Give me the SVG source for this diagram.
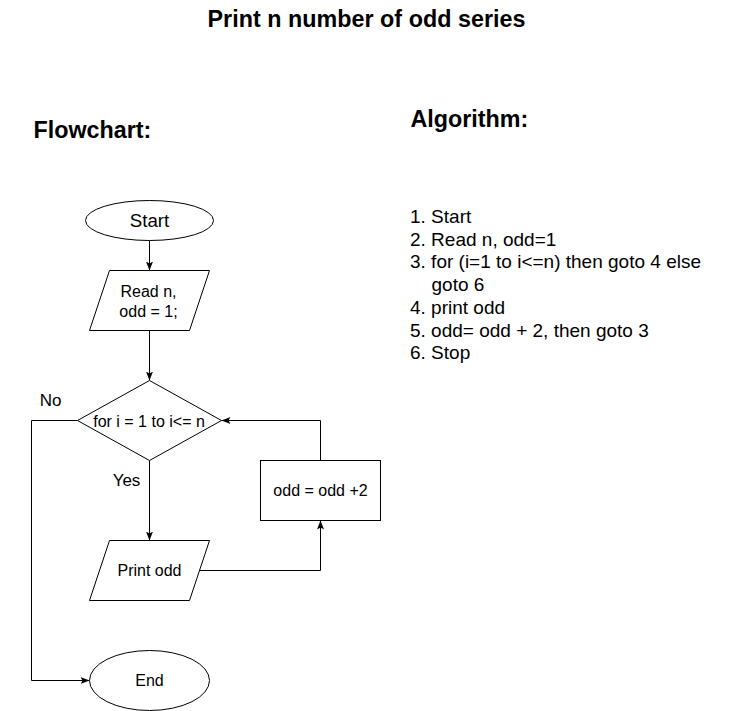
<svg xmlns="http://www.w3.org/2000/svg" width="731" height="711" viewBox="0 0 731 711">
<style>
.shape{fill:#ffffff;stroke:#000000;stroke-width:1}
.conn{fill:none;stroke:#000000;stroke-width:1}
.t{font-family:"Liberation Sans",Arial,sans-serif;fill:#000000}
.node{font-size:16px;text-anchor:middle}
.head{font-size:23.3px;font-weight:bold}
.algo{font-size:19px}
</style>
<defs>
<marker id="arrow" markerUnits="userSpaceOnUse" markerWidth="10" markerHeight="8" refX="9" refY="3.5" orient="auto">
<path d="M0,0 L9,3.5 L0,7 L2,3.5 Z" fill="#000000"/>
</marker>
</defs>
<rect x="0" y="0" width="731" height="711" fill="#ffffff"/>
<g id="titles">
<text class="t head" x="207.5" y="26.5" textLength="318" lengthAdjust="spacing">Print n number of odd series</text>
<text class="t head" x="33.5" y="138.3">Flowchart:</text>
<text class="t head" x="410.5" y="127.3">Algorithm:</text>
</g>
<g id="algorithm">
<text class="t algo" x="410" y="223">1. Start</text>
<text class="t algo" x="410" y="245.7">2. Read n, odd=1</text>
<text class="t algo" x="410" y="268.4">3. for (i=1 to i&lt;=n) then goto 4 else</text>
<text class="t algo" x="431.5" y="291.1">goto 6</text>
<text class="t algo" x="410" y="313.8">4. print odd</text>
<text class="t algo" x="410" y="336.5">5. odd= odd + 2, then goto 3</text>
<text class="t algo" x="410" y="359.2">6. Stop</text>
</g>
<g id="connectors">
<path class="conn" d="M149.5,240.5 V270.5" marker-end="url(#arrow)"/>
<path class="conn" d="M149.5,330.5 V380.5" marker-end="url(#arrow)"/>
<path class="conn" d="M149.5,460.5 V540.5" marker-end="url(#arrow)"/>
<path class="conn" d="M199.5,570.5 H320.5 V520.5" marker-end="url(#arrow)"/>
<path class="conn" d="M320.5,460.5 V420.5 H221.5" marker-end="url(#arrow)"/>
<path class="conn" d="M77.5,420.5 H31.5 V680.5 H89.5" marker-end="url(#arrow)"/>
<text class="t" x="50.5" y="406" font-size="17px" text-anchor="middle">No</text>
<text class="t" x="126.5" y="486" font-size="17px" text-anchor="middle">Yes</text>
</g>
<g id="start">
<ellipse class="shape" cx="149.5" cy="220.5" rx="64" ry="20"/>
<text class="t" x="149.5" y="226.7" font-size="18.7px" text-anchor="middle">Start</text>
</g>
<g id="read">
<polygon class="shape" points="109.5,270.5 209.5,270.5 189.5,330.5 89.5,330.5"/>
<text class="t node" x="148.5" y="297.3">Read n,</text>
<text class="t node" x="148.5" y="316.7">odd = 1;</text>
</g>
<g id="decision">
<polygon class="shape" points="149.5,380.5 221.5,420.5 149.5,460.5 77.5,420.5"/>
<text class="t node" x="149" y="426.5">for i = 1 to i&lt;= n</text>
</g>
<g id="print">
<polygon class="shape" points="109.5,540.5 209.5,540.5 189.5,600.5 89.5,600.5"/>
<text class="t node" x="149.5" y="576">Print odd</text>
</g>
<g id="increment">
<rect class="shape" x="260.5" y="460.5" width="120" height="60"/>
<text class="t node" x="320.5" y="496">odd = odd +2</text>
</g>
<g id="end">
<ellipse class="shape" cx="149.5" cy="680.5" rx="60" ry="30"/>
<text class="t node" x="149.5" y="686">End</text>
</g>
</svg>
